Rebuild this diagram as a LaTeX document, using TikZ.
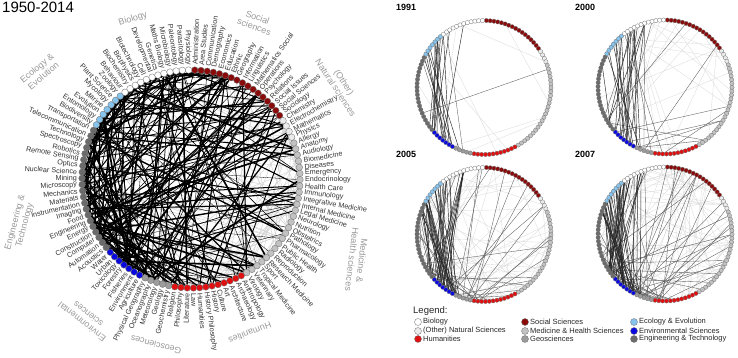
\documentclass[tikz,border=0pt]{standalone}
\usepackage{fontspec}
\setmainfont{Liberation Sans}
\pgfdeclarelayer{bg}
\pgfsetlayers{bg,main}
\definecolor{soc}{HTML}{8B0A0A}
\definecolor{hum}{HTML}{E01010}
\definecolor{nat}{HTML}{EBEBEB}
\definecolor{med}{HTML}{C2C2C2}
\definecolor{geo}{HTML}{9C9C9C}
\definecolor{eco}{HTML}{86C4EE}
\definecolor{env}{HTML}{0A0AE0}
\definecolor{eng}{HTML}{6B6B6B}
\definecolor{bio}{HTML}{FFFFFF}
\newcommand\setcol[1]{%
 \ifnum#1<17 \def\thecol{soc}\else
 \ifnum#1<21 \def\thecol{nat}\else
 \ifnum#1<46 \def\thecol{med}\else
 \ifnum#1<58 \def\thecol{hum}\else
 \ifnum#1<63 \def\thecol{geo}\else
 \ifnum#1<70 \def\thecol{env}\else
 \ifnum#1<91 \def\thecol{eng}\else
 \ifnum#1<98 \def\thecol{eco}\else
 \def\thecol{bio}\fi\fi\fi\fi\fi\fi\fi\fi}
\newcommand\smallnet[7]{%
\begin{scope}[shift={(#2,#3)}]
\foreach \i in {0,...,109}{%
  \setcol{\i}%
  \pgfmathsetmacro\ang{88-3.2727*\i}%
  \node[sdot,fill=\thecol] (#1n\i) at (\ang:67) {};
}
\end{scope}
\begin{pgfonlayer}{bg}
\pgfmathsetseed{#7}
\foreach \k in {1,...,#6}{%
  \pgfmathrandominteger{\a}{0}{109}%
  \pgfmathrandominteger{\b}{0}{109}%
  \ifnum\a=\b\else\draw[gray!28,line width=0.35pt] (#1n\a) -- (#1n\b);\fi
}
\foreach \k in {1,...,#5}{%
  \pgfmathrandominteger{\a}{0}{109}%
  \pgfmathrandominteger{\b}{55}{76}%
  \ifnum\a=\b\else\draw[black!65,line width=0.35pt] (#1n\a) -- (#1n\b);\fi
}
\foreach \k in {1,...,#4}{%
  \pgfmathrandominteger{\a}{88}{104}%
  \pgfmathrandominteger{\b}{61}{72}%
  \draw[black!85,line width=0.45pt] (#1n\a) -- (#1n\b);
}
\end{pgfonlayer}}
\begin{document}
\begin{tikzpicture}[x=1pt,y=1pt,
  dot/.style={circle,draw=black!55,line width=0.35pt,minimum size=6.6pt,inner sep=0pt},
  sdot/.style={circle,draw=black!55,line width=0.3pt,minimum size=4.3pt,inner sep=0pt},
  lab/.style={font=\fontsize{7.2}{8}\selectfont,text=black!80,inner sep=0pt},
  grp/.style={font=\fontsize{9}{10}\selectfont,text=black!40,align=center,inner sep=0pt},
  yr/.style={font=\bfseries\fontsize{9}{10}\selectfont,anchor=north west,inner sep=0pt},
  leg/.style={font=\fontsize{7.5}{8}\selectfont,anchor=west,inner sep=0pt,text=black!85},
  ldot/.style={circle,draw=black!55,line width=0.35pt,minimum size=7pt,inner sep=0pt}]
\useasboundingbox (0,0) rectangle (738,358);
\node[anchor=north west,inner sep=0pt,font=\fontsize{15}{16}\selectfont] (title) at (2,356) {1950-2014};
% big circle
\begin{scope}[shift={(191,179)}]
\foreach \lab [count=\i from 0] in {Administration,Area Studies,Communication,Demography,Economics,Education,Ethnic,Geography,Information,Linguistics,Mathematics Social,Operations,Psychology,Relations,Social Issues,Social Sciences,Sociology,Chemistry,Electrochemistry,Mathematics,Physics,Allergy,Anatomy,Audiology,Biomedicine,Diseases,Emergency,Endocrinology,Health Care,Immunology,Integrative Medicine,Internal Medicine,Legal Medicine,Neurology,Nutrition,Obstetrics,Pathology,Pharmacology,Public Health,Radiology,Reproduction,Research Medicine,Sport,Tropical Medicine,Veterinary,Virology,Anthropology,Archaeology,Architecture,Art,Culture,History,History Philosophy,Humanities,Law,Literature,Philosophy,Religion,Geochemistry,Geology,Meteorology,Oceanography,Physical Geography,Agriculture,Environment,Fisheries,Forestry,Toxicology,Urban,Water,Acoustics,Automation,Computer,Construction,Energy,Engineering,Food,Imaging,Instrumentation,Materials,Mechanics,Microscopy,Mining,Nuclear Science,Optics,Remote Sensing,Robotics,Spectroscopy,Technology,Telecommunication,Transportation,Biodiversity,Entomology,Evolution,Marine,Mycology,Plant Science,Zoology,Behaviour,Biochemistry,Biophysics,Biotechnology,Cell,Developmental,Genetics,Maths Biology,Microbiology,Paleontology,Parasitology,Physiology}{%
  \setcol{\i}%
  \pgfmathsetmacro\ang{88-3.2727*\i}%
  \node[dot,fill=\thecol] (n\i) at (\ang:109) {};
  \pgfmathtruncatemacro\side{\ang<-90 ? 1 : 0}%
  \ifnum\side=1
    \pgfmathsetmacro\rot{\ang+180}%
    \node[lab,anchor=east,rotate=\rot] (l\i) at (\ang:114) {\lab};
  \else
    \node[lab,anchor=west,rotate=\ang] (l\i) at (\ang:114) {\lab};
  \fi
}
\end{scope}
\begin{pgfonlayer}{bg}
\pgfmathsetseed{11}
\foreach \k in {1,...,100}{%
  \pgfmathrandominteger{\a}{18}{62}%
  \pgfmathrandominteger{\b}{0}{109}%
  \ifnum\a=\b\else\draw[gray!35,line width=0.45pt] (n\a) -- (n\b);\fi
}
\foreach \k in {1,...,40}{%
  \pgfmathrandominteger{\a}{0}{20}%
  \pgfmathrandominteger{\b}{40}{109}%
  \pgfmathsetmacro\w{0.3+1.2*rnd}%
  \draw[black,line width=\w pt] (n\a) -- (n\b);
}
\foreach \k in {1,...,100}{%
  \pgfmathrandominteger{\a}{60}{82}%
  \pgfmathrandominteger{\b}{0}{109}%
  \pgfmathsetmacro\w{0.3+1.4*rnd}%
  \ifnum\a=\b\else\draw[black,line width=\w pt] (n\a) -- (n\b);\fi
}
\foreach \k in {1,...,80}{%
  \pgfmathrandominteger{\a}{83}{109}%
  \pgfmathrandominteger{\b}{0}{109}%
  \pgfmathsetmacro\w{0.3+1.4*rnd}%
  \ifnum\a=\b\else\draw[black,line width=\w pt] (n\a) -- (n\b);\fi
}
\end{pgfonlayer}
% group labels
\node[grp,rotate=18] (gbio) at (133,339) {Biology};
\node[grp,rotate=-20] (gsoc) at (256,336) {Social\\sciences};
\node[grp,rotate=-57] (gnat) at (340,273) {(Other)\\Natural sciences};
\node[grp,rotate=-97] (gmed) at (357,98) {Medicine \&\\Health sciences};
\node[grp,rotate=-159] (ghum) at (250,25) {Humanities};
\node[grp,rotate=165] (ggeo) at (156,13) {Geosciences};
\node[grp,rotate=142] (genv) at (85,40) {Environmental\\sciences};
\node[grp,rotate=75] (geng) at (20,134) {Engineering \&\\Technology};
\node[grp,rotate=40] (geco) at (40,286) {Ecology \&\\Evolution};
% small networks
\node[yr] (y1) at (396,354) {1991};
\node[yr] (y2) at (575,354) {2000};
\node[yr] (y3) at (396,207) {2005};
\node[yr] (y4) at (575,207) {2007};
\smallnet{A}{484}{270.5}{16}{3}{10}{3}
\smallnet{B}{665}{271}{20}{14}{30}{5}
\smallnet{C}{484}{123.5}{38}{40}{60}{7}
\smallnet{D}{665}{124}{44}{50}{80}{9}
% legend
\node[anchor=north west,inner sep=0pt,font=\fontsize{9.5}{10}\selectfont,text=black!85] (legt) at (413,52) {Legend:};
\node[ldot,fill=bio] (lg1) at (418,36) {}; \node[leg] (lt1) at (423,36) {Biology};
\node[ldot,fill=nat] (lg2) at (418,27) {}; \node[leg] (lt2) at (423,27) {(Other) Natural Sciences};
\node[ldot,fill=hum] (lg3) at (418,19) {}; \node[leg] (lt3) at (423,19) {Humanities};
\node[ldot,fill=soc] (lg4) at (525,36) {}; \node[leg] (lt4) at (530,36) {Social Sciences};
\node[ldot,fill=med] (lg5) at (525,27) {}; \node[leg] (lt5) at (530,27) {Medicine \& Health Sciences};
\node[ldot,fill=geo] (lg6) at (525,19) {}; \node[leg] (lt6) at (530,19) {Geosciences};
\node[ldot,fill=eco] (lg7) at (634,36) {}; \node[leg] (lt7) at (639,36) {Ecology \& Evolution};
\node[ldot,fill=env] (lg8) at (634,27) {}; \node[leg] (lt8) at (639,27) {Environmental Sciences};
\node[ldot,fill=eng] (lg9) at (634,19) {}; \node[leg] (lt9) at (639,19) {Engineering \& Technology};
\end{tikzpicture}
\end{document}
